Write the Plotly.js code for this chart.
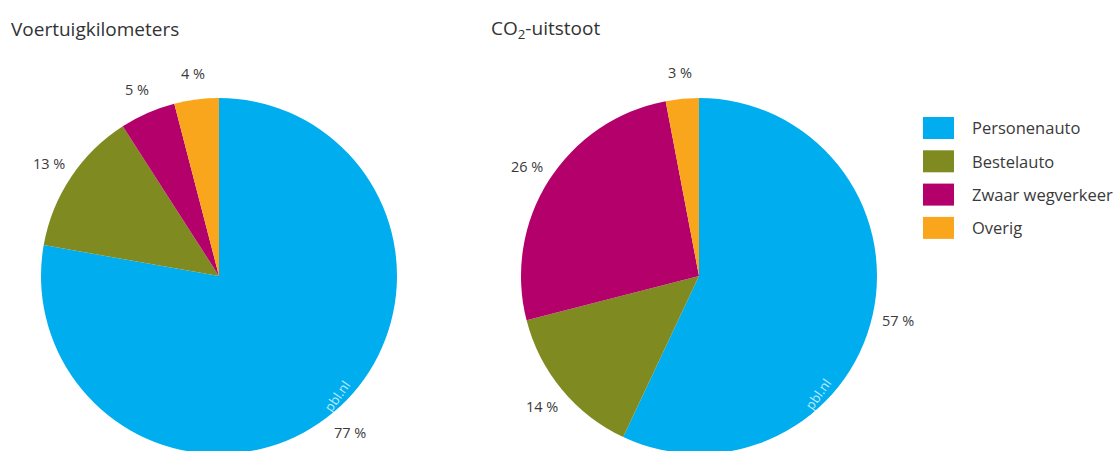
<!DOCTYPE html>
<html>
<head>
<meta charset="utf-8">
<script src="https://cdn.plot.ly/plotly-3.0.1.min.js"></script>
<style>
  html, body { margin: 0; padding: 0; overflow: hidden; background: #fff; }
  #chart { width: 1116px; height: 470px; }
</style>
</head>
<body>
<div id="chart"></div>
<script>
// Vehicle categories and their shares (%)
const categories = ['Personenauto', 'Bestelauto', 'Zwaar wegverkeer', 'Overig'];
const vehicleKmShare = [77, 13, 5, 4];
const co2Share = [57, 14, 26, 3];
const sliceColors = ['#00AEEF', '#7F8A20', '#B3006A', '#FAA61D'];

const W = 1116, H = 470;
const px = x => x / W;
const py = y => (H - y) / H;

const FONT = '"Open Sans", Lato, sans-serif';
const R = 178, CY = 276, LABEL_R = 204;

const annotations = [];

function pieTrace(values, cx, name) {
  // percentage labels just outside each slice, at the slice's mid-angle
  const total = values.reduce((a, b) => a + b, 0);
  let cum = 0;
  values.forEach(v => {
    const mid = (cum + v / 2) / total * 2 * Math.PI; // clockwise from 12 o'clock
    cum += v;
    annotations.push({
      text: v + ' %', xref: 'paper', yref: 'paper', showarrow: false,
      x: px(cx + LABEL_R * Math.sin(mid)), y: py(CY - LABEL_R * Math.cos(mid)),
      xanchor: 'center', yanchor: 'middle',
      font: { family: FONT, size: 14.5, color: '#3a3a3a' }
    });
  });
  return {
    type: 'pie',
    name: name,
    labels: categories,
    values: values,
    sort: false,
    direction: 'clockwise',
    rotation: 0,
    marker: { colors: sliceColors, line: { width: 0 } },
    textinfo: 'none',
    hoverinfo: 'label+value',
    showlegend: false,
    domain: { x: [px(cx - R), px(cx + R)], y: [py(CY + R), py(CY - R)] }
  };
}

const data = [
  pieTrace(vehicleKmShare, 219, 'Voertuigkilometers'),
  pieTrace(co2Share, 699, 'CO2-uitstoot')
];

[
  { text: 'Voertuigkilometers', x: px(9), y: py(29) },
  { text: 'CO<sub>2</sub>-uitstoot', x: px(489), y: py(29) }
].forEach(a => annotations.push(Object.assign({
  xref: 'paper', yref: 'paper', xanchor: 'left', yanchor: 'middle', showarrow: false,
  font: { family: FONT, size: 19, color: '#333' }
}, a)));

// watermark inside each blue slice
[[337, 396], [818, 394]].forEach(([x, y]) => annotations.push({
  text: 'pbl.nl', x: px(x), y: py(y), xref: 'paper', yref: 'paper', showarrow: false,
  xanchor: 'center', yanchor: 'middle', textangle: -55,
  font: { family: FONT, size: 13, color: 'rgba(255,255,255,0.75)' }
}));

// legend: colour swatches with category names
const shapes = [];
categories.forEach((cat, i) => {
  const top = 117 + i * 33.3;
  shapes.push({
    type: 'rect', xref: 'paper', yref: 'paper',
    x0: px(923), x1: px(954), y0: py(top + 22), y1: py(top),
    fillcolor: sliceColors[i], line: { width: 0 }
  });
  annotations.push({
    text: cat, x: px(970), y: py(top + 11), xref: 'paper', yref: 'paper',
    xanchor: 'left', yanchor: 'middle', showarrow: false,
    font: { family: FONT, size: 16.5, color: '#3a3a3a' }
  });
});

const layout = {
  width: W, height: H,
  margin: { l: 0, r: 0, t: 0, b: 0 },
  paper_bgcolor: '#fff',
  showlegend: false,
  annotations: annotations,
  shapes: shapes
};

Plotly.newPlot('chart', data, layout, { displayModeBar: false, staticPlot: true });
</script>
</body>
</html>
